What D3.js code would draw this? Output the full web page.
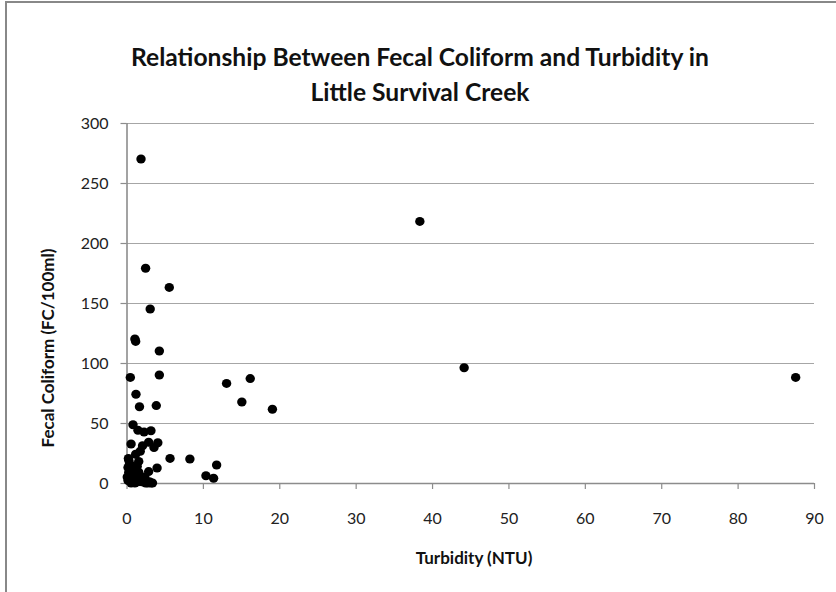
<!DOCTYPE html>
<html>
<head>
<meta charset="utf-8">
<script src="https://cdn.jsdelivr.net/npm/d3@7"></script>
<style>
  html, body { margin: 0; padding: 0; background: #fff; }
  svg { display: block; }
</style>
</head>
<body>
<svg id="chart" width="836" height="592"></svg>
<script>
const titleLines = ["Relationship Between Fecal Coliform and Turbidity in", "Little Survival Creek"];
const xTitle = "Turbidity (NTU)";
const yTitle = "Fecal Coliform (FC/100ml)";
const xTicks = [0, 10, 20, 30, 40, 50, 60, 70, 80, 90];
const yTicks = [0, 50, 100, 150, 200, 250, 300];

const turbidity = [
  1.9, 2.5, 5.6, 3.1, 1.2, 1.1, 4.3, 0.5, 4.3, 13.1, 16.2, 38.4, 44.2, 87.6,
  1.24, 1.7, 3.9, 15.1, 19.1, 0.85, 1.5, 2.3, 3.2, 0.6, 2.9, 4.1, 1.8, 3.6,
  0.25, 5.7, 8.3, 1.6, 11.8, 10.4, 11.4, 4.0, 2.9, 1.2, 2.1,
  0.2, 0.3, 0.5, 0.2, 0.6, 1.0, 0.9, 1.3, 1.1, 1.6, 1.9, 2.0, 2.5, 3.0, 3.4, 0.4, 1.4, 2.4,
  0.1, 0.7, 1.5, 2.2, 2.8, 0.4, 0.8, 1.3, 0.3, 3.2
];
const fecalColiform = [
  270, 179, 163, 145, 118, 120, 110, 88, 90, 83, 87, 218, 96, 88,
  74, 63.5, 64.5, 67.5, 61.5, 48.5, 44, 42.5, 43.5, 32.5, 34, 33.5, 26.5, 29.5,
  20.5, 20.5, 20, 18, 15, 6, 4, 12.5, 9.5, 24, 31,
  13, 9, 5, 2, 0, 12, 7, 3, 0, 9, 4, 1, 0, 1, 0, 16, 14, 5,
  5, 3, 1, 2, 0, 11, 14, 10, 19, 0
];

const svg = d3.select("#chart");
const font = "Lato, 'Open Sans', 'DejaVu Sans', sans-serif";

// outer frame
svg.append("rect")
  .attr("x", 6).attr("y", 2).attr("width", 840).attr("height", 600)
  .attr("fill", "#fff").attr("stroke", "#888").attr("stroke-width", 2);

const x = d3.scaleLinear().domain([0, 90]).range([126.5, 814]);
const y = d3.scaleLinear().domain([0, 300]).range([483, 123]);

// gridlines
svg.append("g").selectAll("line").data(yTicks.filter(d => d > 0)).join("line")
  .attr("x1", x(0)).attr("x2", x(90))
  .attr("y1", d => y(d) + 0.5).attr("y2", d => y(d) + 0.5)
  .attr("stroke", "#a6a6a6").attr("stroke-width", 1.2);

// x axis
const xAxis = svg.append("g").attr("transform", `translate(0,${y(0)})`)
  .call(d3.axisBottom(x).tickValues(xTicks).tickSize(6).tickPadding(24).tickFormat(d3.format("d")));
// y axis
const yAxis = svg.append("g").attr("transform", `translate(${x(0)},0)`)
  .call(d3.axisLeft(y).tickValues(yTicks).tickSize(6).tickPadding(12).tickFormat(d3.format("d")));

[xAxis, yAxis].forEach(g => {
  g.select(".domain").attr("stroke", "#8c8c8c").attr("stroke-width", 1.6);
  g.selectAll(".tick line").attr("stroke", "#8c8c8c").attr("stroke-width", 1.2);
  g.selectAll(".tick text").attr("font-family", font).attr("font-size", 16).attr("fill", "#222");
});
xAxis.select(".domain").attr("d", `M${x(0)},0.5H${x(90)}`);
yAxis.select(".domain").attr("d", `M0.5,${y(300)}V${y(0)}`);

// points
const pts = turbidity.map((t, i) => ({ t, f: fecalColiform[i] }));
svg.append("g").selectAll("ellipse").data(pts).join("ellipse")
  .attr("cx", d => x(d.t)).attr("cy", d => y(d.f))
  .attr("rx", 4.7).attr("ry", 4.5)
  .attr("fill", "#000");

// title (both lines share one horizontal compression factor)
const t1 = svg.append("text").attr("x", 420).attr("y", 66).attr("text-anchor", "middle")
  .attr("font-family", font).attr("font-size", 24).attr("font-weight", "bold").attr("fill", "#111")
  .text(titleLines[0]);
const t2 = svg.append("text").attr("x", 420).attr("y", 101).attr("text-anchor", "middle")
  .attr("font-family", font).attr("font-size", 24).attr("font-weight", "bold").attr("fill", "#111")
  .text(titleLines[1]);
const k = 578 / t1.node().getComputedTextLength();
t1.attr("textLength", 578).attr("lengthAdjust", "spacingAndGlyphs");
t2.attr("textLength", t2.node().getComputedTextLength() * k).attr("lengthAdjust", "spacingAndGlyphs");

// axis titles
svg.append("text").attr("x", 474).attr("y", 564).attr("text-anchor", "middle")
  .attr("font-family", font).attr("font-size", 17).attr("font-weight", "bold").attr("fill", "#111")
  .text(xTitle);
svg.append("text").attr("transform", "translate(54,348) rotate(-90)").attr("text-anchor", "middle")
  .attr("font-family", font).attr("font-size", 17).attr("font-weight", "bold").attr("fill", "#111")
  .text(yTitle);
</script>
</body>
</html>
